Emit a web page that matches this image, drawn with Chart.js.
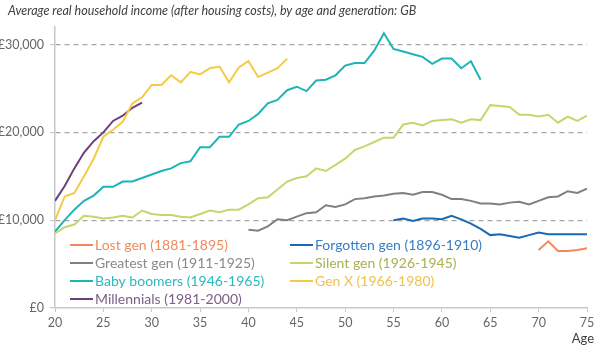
<!DOCTYPE html>
<html>
<head>
<meta charset="utf-8">
<script src="https://cdn.jsdelivr.net/npm/chart.js@4"></script>
<style>
  html, body { margin: 0; padding: 0; background: #fff; }
  #wrap { width: 601px; height: 351px; position: relative; }
</style>
</head>
<body>
<div id="wrap"><canvas id="income"></canvas></div>
<script>
// ages 20..75
const ages = [];
for (let a = 20; a <= 75; a++) ages.push(a);

const yTicks = [0, 10000, 20000, 30000];

// each series: first age + values
const lostStart = 70;
const lostGen = [6600, 7600, 6500, 6500, 6600, 6800];

const forgottenStart = 55;
const forgottenGen = [10000, 10200, 9900, 10200, 10200, 10100, 10500, 10100, 9600, 9000,
    8300, 8400, 8200, 8000, 8300, 8600, 8400, 8400, 8400, 8400, 8400];

const greatestStart = 40;
const greatestGen = [8900, 8800, 9300, 10100, 10000, 10400, 10800, 10900, 11700, 11500,
    11800, 12400, 12500, 12700, 12800, 13000, 13100, 12900, 13200, 13200,
    12900, 12400, 12400, 12200, 11900, 11900, 11800, 12000, 12100, 11800,
    12200, 12600, 12700, 13300, 13100, 13600];

const silentStart = 20;
const silentGen = [8500, 9200, 9500, 10500, 10400, 10200, 10300, 10500, 10300, 11100,
    10700, 10600, 10600, 10400, 10300, 10700, 11100, 10900, 11200, 11200,
    11800, 12500, 12600, 13500, 14400, 14800, 15000, 15900, 15600, 16300,
    17000, 18000, 18400, 18900, 19400, 19400, 20900, 21100, 20800, 21300,
    21400, 21500, 21100, 21500, 21400, 23100, 23000, 22900, 22000, 22000,
    21800, 22000, 21100, 21800, 21300, 21900];

const boomersStart = 20;
const babyBoomers = [8700, 10000, 11200, 12200, 12800, 13800, 13800, 14400, 14400, 14800,
    15200, 15600, 15900, 16500, 16700, 18300, 18300, 19500, 19500, 20900,
    21300, 22100, 23300, 23700, 24800, 25200, 24700, 25900, 26000, 26500,
    27600, 27900, 27900, 29300, 31300, 29500, 29200, 28900, 28600, 27800,
    28400, 28400, 27300, 28100, 26000];

const genXStart = 20;
const genX = [10000, 12700, 13100, 15000, 17000, 19500, 20300, 21200, 23300, 24000,
    25400, 25400, 26500, 25700, 26900, 26600, 27300, 27500, 25700, 27400,
    28100, 26300, 26800, 27300, 28400];

const millStart = 20;
const millennials = [12200, 13900, 15900, 17700, 19000, 20000, 21300, 21900, 22800, 23400];

function place(start, vals) {
    return ages.map((a) => (a >= start && a - start < vals.length ? vals[a - start] : null));
}

const series = [
    { label: 'Lost gen (1881-1895)', color: '#F2885C', text: '#F0895E', data: place(lostStart, lostGen) },
    { label: 'Forgotten gen (1896-1910)', color: '#1B69B5', text: '#3A7DC3', data: place(forgottenStart, forgottenGen) },
    { label: 'Greatest gen (1911-1925)', color: '#808080', text: '#8A8A8A', data: place(greatestStart, greatestGen) },
    { label: 'Silent gen (1926-1945)', color: '#C4D76C', text: '#A9B150', data: place(silentStart, silentGen) },
    { label: 'Baby boomers (1946-1965)', color: '#1DB4B8', text: '#2DB8BE', data: place(boomersStart, babyBoomers) },
    { label: 'Gen X (1966-1980)', color: '#F6CA46', text: '#EDC24C', data: place(genXStart, genX) },
    { label: 'Millennials (1981-2000)', color: '#6B3F79', text: '#7B5E88', data: place(millStart, millennials) },
];

const FONT = 'Lato, "Open Sans", sans-serif';

const titlePlugin = {
    id: 'ifsTitle',
    afterDraw(chart) {
        const ctx = chart.ctx;
        ctx.save();
        ctx.font = 'italic 12.5px ' + FONT;
        ctx.fillStyle = '#404040';
        ctx.textBaseline = 'middle';
        ctx.fillText('Average real household income (after housing costs), by age and generation: GB', 8, 11);
        // axis name, bottom right
        ctx.font = '13px ' + FONT;
        ctx.textAlign = 'right';
        ctx.fillText('Age', chart.chartArea.right + 7, chart.chartArea.bottom + 31);
        ctx.restore();
    },
};

// two-column legend sitting inside the plot area
const legendPlugin = {
    id: 'innerLegend',
    afterDraw(chart) {
        const ctx = chart.ctx;
        const area = chart.chartArea;
        ctx.save();
        ctx.font = '14px ' + FONT;
        ctx.textBaseline = 'middle';
        chart.data.datasets.forEach((ds, i) => {
            const x = area.left + (i % 2 === 0 ? 15 : 235);
            const y = area.bottom - 63 + Math.floor(i / 2) * 18;
            ctx.strokeStyle = ds.borderColor;
            ctx.lineWidth = 2;
            ctx.beginPath();
            ctx.moveTo(x, y);
            ctx.lineTo(x + 23, y);
            ctx.stroke();
            ctx.fillStyle = ds.textColor;
            ctx.fillText(ds.label, x + 25, y);
        });
        ctx.restore();
    },
};

const ctx = document.getElementById('income').getContext('2d');
new Chart(ctx, {
    type: 'line',
    data: {
        labels: ages,
        datasets: series.map((s) => ({
            label: s.label,
            data: s.data,
            borderColor: s.color,
            textColor: s.text,
            borderWidth: 2,
            pointRadius: 0,
            tension: 0,
            fill: false,
            spanGaps: false,
        })),
    },
    options: {
        responsive: true,
        maintainAspectRatio: false,
        animation: false,
        layout: { padding: { top: 27, right: 14, left: 0, bottom: 0 } },
        plugins: {
            legend: { display: false },
            title: { display: false },
            tooltip: { enabled: false },
        },
        scales: {
            x: {
                type: 'linear',
                min: 20,
                max: 75,
                afterFit: (scale) => { scale.height = 43; },
                ticks: {
                    stepSize: 5,
                    color: '#666',
                    font: { family: FONT, size: 12.5 },
                    padding: 3,
                    maxRotation: 0,
                },
                grid: { drawOnChartArea: false, drawTicks: true, tickLength: 4, color: '#c8c8c8' },
                border: { color: '#c8c8c8', width: 1.5 },
            },
            y: {
                min: 0,
                max: 32000,
                afterFit: (scale) => { scale.width = 55; },
                afterBuildTicks: (scale) => { scale.ticks = yTicks.map((v) => ({ value: v })); },
                ticks: {
                    includeBounds: false,
                    color: '#666',
                    font: { family: FONT, size: 12.5 },
                    padding: 6,
                    callback: (v) => '£' + v.toLocaleString('en-GB'),
                },
                grid: {
                    color: (c) => (c.tick && c.tick.value === 0 ? 'rgba(0,0,0,0)' : '#a6a6a6'),
                    tickColor: '#c8c8c8',
                    tickLength: 5,
                    lineWidth: 1.2,
                },
                border: { color: '#c8c8c8', width: 1.5, dash: [5, 4] },
            },
        },
    },
    plugins: [titlePlugin, legendPlugin],
});
</script>
</body>
</html>
